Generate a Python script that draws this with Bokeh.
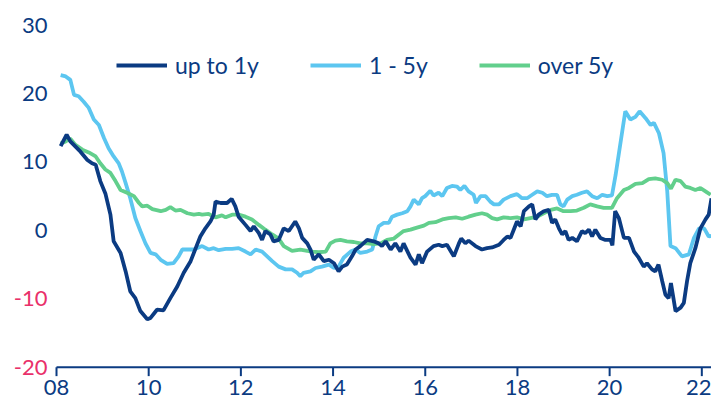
from bokeh.plotting import figure
from bokeh.models import Label, FixedTicker, Legend, LegendItem, Range1d
from bokeh.embed import file_html
from bokeh.resources import INLINE

# ---- data (decimal years, % values) ----
up1_t = [2008.09, 2008.22, 2008.30, 2008.52, 2008.67, 2008.77, 2008.85, 2008.95, 2009.06, 2009.17,
         2009.24, 2009.39, 2009.50, 2009.60, 2009.71, 2009.82, 2009.97, 2010.04, 2010.18, 2010.32,
         2010.47, 2010.62, 2010.76, 2010.91, 2011.02, 2011.12, 2011.23, 2011.34, 2011.41, 2011.45,
         2011.56, 2011.70, 2011.80, 2011.88, 2011.95, 2012.10, 2012.21, 2012.28, 2012.39, 2012.46,
         2012.53, 2012.64, 2012.71, 2012.82, 2012.93, 2013.04, 2013.18, 2013.26, 2013.33, 2013.44,
         2013.51, 2013.58, 2013.69, 2013.80, 2013.91, 2014.02, 2014.12, 2014.20, 2014.30, 2014.41,
         2014.49, 2014.59, 2014.74, 2014.88, 2014.99, 2015.06, 2015.14, 2015.25, 2015.35, 2015.46,
         2015.53, 2015.68, 2015.79, 2015.86, 2015.93, 2016.04, 2016.18, 2016.29, 2016.37, 2016.47,
         2016.62, 2016.73, 2016.78, 2016.87, 2016.94, 2017.09, 2017.23, 2017.34, 2017.45, 2017.60,
         2017.70, 2017.78, 2017.85, 2017.92, 2017.99, 2018.07, 2018.14, 2018.25, 2018.32, 2018.39,
         2018.46, 2018.57, 2018.68, 2018.75, 2018.82, 2018.90, 2018.97, 2019.04, 2019.11, 2019.19,
         2019.29, 2019.40, 2019.47, 2019.55, 2019.62, 2019.69, 2019.80, 2019.91, 2020.02, 2020.06,
         2020.12, 2020.20, 2020.31, 2020.42, 2020.53, 2020.63, 2020.74, 2020.81, 2020.92, 2020.99,
         2021.06, 2021.14, 2021.21, 2021.28, 2021.33, 2021.43, 2021.54, 2021.61, 2021.68, 2021.75,
         2021.86, 2021.97, 2022.08, 2022.15, 2022.21]
up1_v = [12.3, 14.0, 13.0, 11.5, 10.3, 9.8, 9.6, 7.2, 5.4, 2.3,
         -1.6, -3.3, -6.0, -8.9, -9.9, -11.8, -13.0, -12.8, -11.6, -11.7,
         -9.9, -8.2, -6.2, -4.5, -2.6, -0.9, 0.3, 1.3, 2.3, 4.2,
         4.0, 4.0, 4.6, 3.5, 2.0, 0.8, -0.1, 0.6, -0.4, -1.4,
         -0.1, -0.6, -1.6, -1.4, 0.3, -0.1, 1.3, 0.3, -1.1, -1.9,
         -2.8, -4.3, -3.5, -4.5, -4.3, -4.8, -6.0, -5.3, -5.0, -3.8,
         -2.8, -2.3, -1.4, -1.6, -1.9, -2.3, -1.6, -2.8, -1.9, -3.1,
         -1.9, -4.0, -5.0, -3.5, -4.8, -3.1, -2.3, -2.1, -2.3, -2.1,
         -3.8, -1.9, -1.2, -1.9, -1.5, -2.3, -2.8, -2.6, -2.5, -2.1,
         -1.4, -0.9, -1.1, 0.1, 1.3, 0.6, 2.8, 3.5, 3.8, 1.6,
         2.3, 2.8, 3.0, 1.1, 1.6, 0.3, -0.6, -0.1, -1.4, -1.1,
         -1.6, -0.1, -0.4, 0.1, -0.9, 0.1, -1.1, -1.4, -1.4, -2.2,
         2.8, 1.8, -1.1, -1.1, -3.1, -4.0, -5.3, -4.8, -5.7, -6.0,
         -5.0, -7.4, -9.4, -9.9, -7.7, -11.8, -11.3, -10.6, -7.4, -4.8,
         -2.6, 0.3, 1.6, 2.3, 4.7]

m15_t = [2008.09, 2008.20, 2008.30, 2008.38, 2008.48, 2008.59, 2008.70, 2008.81, 2008.92, 2009.03,
         2009.13, 2009.24, 2009.35, 2009.42, 2009.50, 2009.60, 2009.71, 2009.82, 2009.93, 2010.04,
         2010.15, 2010.26, 2010.40, 2010.54, 2010.65, 2010.73, 2010.84, 2010.98, 2011.16, 2011.30,
         2011.41, 2011.52, 2011.67, 2011.81, 2011.95, 2012.10, 2012.21, 2012.32, 2012.46, 2012.57,
         2012.68, 2012.82, 2012.97, 2013.11, 2013.22, 2013.29, 2013.36, 2013.51, 2013.62, 2013.76,
         2013.91, 2014.02, 2014.12, 2014.23, 2014.38, 2014.49, 2014.59, 2014.74, 2014.85, 2014.92,
         2014.99, 2015.10, 2015.21, 2015.28, 2015.39, 2015.50, 2015.61, 2015.68, 2015.75, 2015.86,
         2015.93, 2016.00, 2016.11, 2016.18, 2016.29, 2016.37, 2016.47, 2016.58, 2016.69, 2016.76,
         2016.85, 2016.94, 2017.05, 2017.10, 2017.20, 2017.31, 2017.41, 2017.49, 2017.60, 2017.70,
         2017.85, 2017.99, 2018.10, 2018.21, 2018.32, 2018.43, 2018.54, 2018.64, 2018.75, 2018.86,
         2018.93, 2019.00, 2019.08, 2019.19, 2019.29, 2019.40, 2019.51, 2019.62, 2019.73, 2019.84,
         2019.95, 2020.05, 2020.13, 2020.24, 2020.34, 2020.45, 2020.56, 2020.65, 2020.78, 2020.89,
         2020.96, 2021.07, 2021.17, 2021.25, 2021.32, 2021.43, 2021.57, 2021.72, 2021.83, 2021.94,
         2022.05, 2022.15, 2022.21]
m15_v = [22.7, 22.5, 22.0, 19.8, 19.6, 18.8, 17.9, 16.2, 15.4, 13.5,
         12.0, 10.8, 9.8, 8.6, 6.9, 4.7, 1.8, -0.1, -1.9, -3.3,
         -3.5, -4.3, -4.9, -4.8, -3.8, -2.8, -2.8, -2.8, -2.3, -2.8,
         -2.6, -2.9, -2.7, -2.7, -2.6, -3.1, -3.5, -2.8, -3.1, -3.8,
         -4.5, -5.3, -5.7, -5.7, -6.2, -6.7, -6.2, -6.0, -5.5, -5.3,
         -5.0, -5.5, -5.3, -4.0, -3.1, -2.8, -3.3, -3.1, -2.8, -0.9,
         0.6, 1.1, 1.1, 2.0, 2.3, 2.5, 2.8, 3.5, 4.5, 3.8,
         4.7, 5.0, 5.8, 5.1, 5.5, 5.0, 6.2, 6.5, 6.4, 5.9,
         6.5, 5.7, 5.2, 4.0, 5.0, 5.0, 4.2, 3.8, 3.8, 4.5,
         5.0, 5.3, 4.7, 4.7, 5.2, 5.7, 5.5, 5.0, 5.2, 5.2,
         3.8, 3.5, 4.5, 5.0, 5.2, 5.5, 5.7, 5.0, 4.7, 5.2,
         5.0, 5.1, 8.1, 13.0, 17.4, 16.2, 16.6, 17.4, 16.4, 15.4,
         15.7, 14.2, 11.3, 5.7, -2.3, -2.6, -3.8, -3.5, -1.1, 0.3,
         0.3, -0.9, -0.8]

o5_t = [2008.09, 2008.20, 2008.30, 2008.41, 2008.56, 2008.70, 2008.85, 2008.95, 2009.06, 2009.17,
        2009.28, 2009.39, 2009.53, 2009.68, 2009.79, 2009.86, 2009.97, 2010.08, 2010.26, 2010.37,
        2010.47, 2010.58, 2010.69, 2010.84, 2010.98, 2011.09, 2011.16, 2011.30, 2011.45, 2011.59,
        2011.67, 2011.81, 2011.95, 2012.10, 2012.24, 2012.39, 2012.53, 2012.68, 2012.82, 2012.93,
        2013.11, 2013.29, 2013.44, 2013.55, 2013.69, 2013.84, 2013.94, 2014.05, 2014.16, 2014.30,
        2014.45, 2014.59, 2014.74, 2014.88, 2015.03, 2015.17, 2015.32, 2015.43, 2015.53, 2015.68,
        2015.82, 2015.97, 2016.08, 2016.22, 2016.37, 2016.51, 2016.66, 2016.80, 2016.94, 2017.09,
        2017.23, 2017.34, 2017.45, 2017.56, 2017.70, 2017.85, 2017.99, 2018.14, 2018.28, 2018.43,
        2018.57, 2018.72, 2018.86, 2019.00, 2019.15, 2019.29, 2019.44, 2019.58, 2019.73, 2019.87,
        2020.05, 2020.16, 2020.31, 2020.42, 2020.56, 2020.71, 2020.85, 2020.99, 2021.14, 2021.25,
        2021.33, 2021.43, 2021.54, 2021.64, 2021.75, 2021.86, 2021.97, 2022.08, 2022.19]
o5_v = [12.7, 13.0, 13.4, 12.5, 11.8, 11.4, 10.8, 9.8, 8.9, 8.4,
        7.2, 5.9, 5.5, 5.0, 4.0, 3.5, 3.6, 3.1, 2.8, 3.0,
        3.4, 2.9, 3.0, 2.5, 2.3, 2.4, 2.3, 2.4, 1.9, 2.2,
        1.9, 2.3, 2.3, 2.0, 1.6, 0.8, 0.1, -0.6, -1.2, -2.3,
        -3.0, -2.8, -3.0, -3.1, -3.2, -3.1, -1.9, -1.5, -1.4, -1.6,
        -1.7, -1.9, -1.9, -2.0, -1.9, -1.4, -1.2, -0.6, -0.1, 0.1,
        0.4, 0.7, 1.1, 1.2, 1.6, 1.8, 1.9, 1.7, 2.0, 2.3,
        2.5, 2.3, 1.8, 1.6, 1.9, 1.8, 1.9, 1.6, 1.8, 2.0,
        2.5, 3.0, 3.2, 2.8, 2.8, 2.9, 3.3, 3.8, 3.5, 3.3,
        3.3, 4.7, 5.9, 6.2, 6.8, 6.9, 7.5, 7.6, 7.4, 6.9,
        6.1, 7.4, 7.2, 6.4, 6.2, 5.9, 6.2, 5.7, 5.2]

series_names = ["up to 1y", "1 - 5y", "over 5y"]
x_ticks = [2008, 2010, 2012, 2014, 2016, 2018, 2020, 2022]
x_labels = ["08", "10", "12", "14", "16", "18", "20", "22"]
y_ticks = [30, 20, 10, 0, -10, -20]
y_labels = ["30", "20", "10", "0", "-10", "-20"]
x_end = 2022.21

NAVY = "#0b3b82"
LIGHT = "#5cc6f0"
GREEN = "#62cf8c"
PINK = "#e9306a"
FONT = "Lato"

# the frame spans the whole figure (except the tick-label strip) so that
# the value labels at the left can sit inside it
y_start, y_end = -21.36, 33.6
tick_len = 1.32  # tick length in data units (about 9 px)

p = figure(width=711, height=407, output_backend="svg", toolbar_location=None,
           x_range=Range1d(2006.785, x_end), y_range=Range1d(y_start, y_end),
           y_axis_location=None, min_border_left=0, min_border_right=0,
           min_border_top=0, min_border_bottom=31)
p.outline_line_color = None
p.grid.visible = False
p.background_fill_color = "white"
p.border_fill_color = "white"

base = y_ticks[-1]
# baseline (x axis line) from the first tick to the end of the data, plus ticks
p.line([x_ticks[0], x_end], [base, base], line_color=NAVY, line_width=2)
p.segment(x0=x_ticks, y0=[base] * len(x_ticks), x1=x_ticks,
          y1=[base - tick_len] * len(x_ticks), line_color=NAVY, line_width=2)

r_m15 = p.line(m15_t, m15_v, line_color=LIGHT, line_width=3.8)
r_o5 = p.line(o5_t, o5_v, line_color=GREEN, line_width=3.8)
r_up1 = p.line(up1_t, up1_v, line_color=NAVY, line_width=3.8)

ax = p.xaxis[0]
ax.ticker = FixedTicker(ticks=x_ticks)
ax.major_label_overrides = {t: l for t, l in zip(x_ticks, x_labels)}
ax.axis_line_color = None
ax.major_tick_line_color = None
ax.major_tick_out = 0
ax.major_tick_in = 0
ax.minor_tick_out = 0
ax.minor_tick_in = 0
ax.major_label_standoff = 3
ax.major_label_text_font = FONT
ax.major_label_text_font_size = "22px"
ax.major_label_text_color = NAVY

for v, lab in zip(y_ticks, y_labels):
    p.add_layout(Label(x=x_ticks[0], y=v, text=lab, x_offset=-9,
                       text_align="right", text_baseline="middle",
                       text_color=NAVY if v >= 0 else PINK,
                       text_font=FONT, text_font_size="22px"))

legend = Legend(items=[LegendItem(label=series_names[0], renderers=[r_up1]),
                       LegendItem(label=series_names[1], renderers=[r_m15]),
                       LegendItem(label=series_names[2], renderers=[r_o5])],
                orientation="horizontal", location=(116, 297))
legend.label_text_font = FONT
legend.label_text_font_size = "23px"
legend.label_text_color = NAVY
legend.glyph_width = 51
legend.glyph_height = 22
legend.label_standoff = 8
legend.spacing = 51
legend.padding = 0
legend.margin = 0
legend.border_line_alpha = 0
legend.background_fill_alpha = 0
p.add_layout(legend)

open("out.html", "w").write(file_html(p, INLINE))
